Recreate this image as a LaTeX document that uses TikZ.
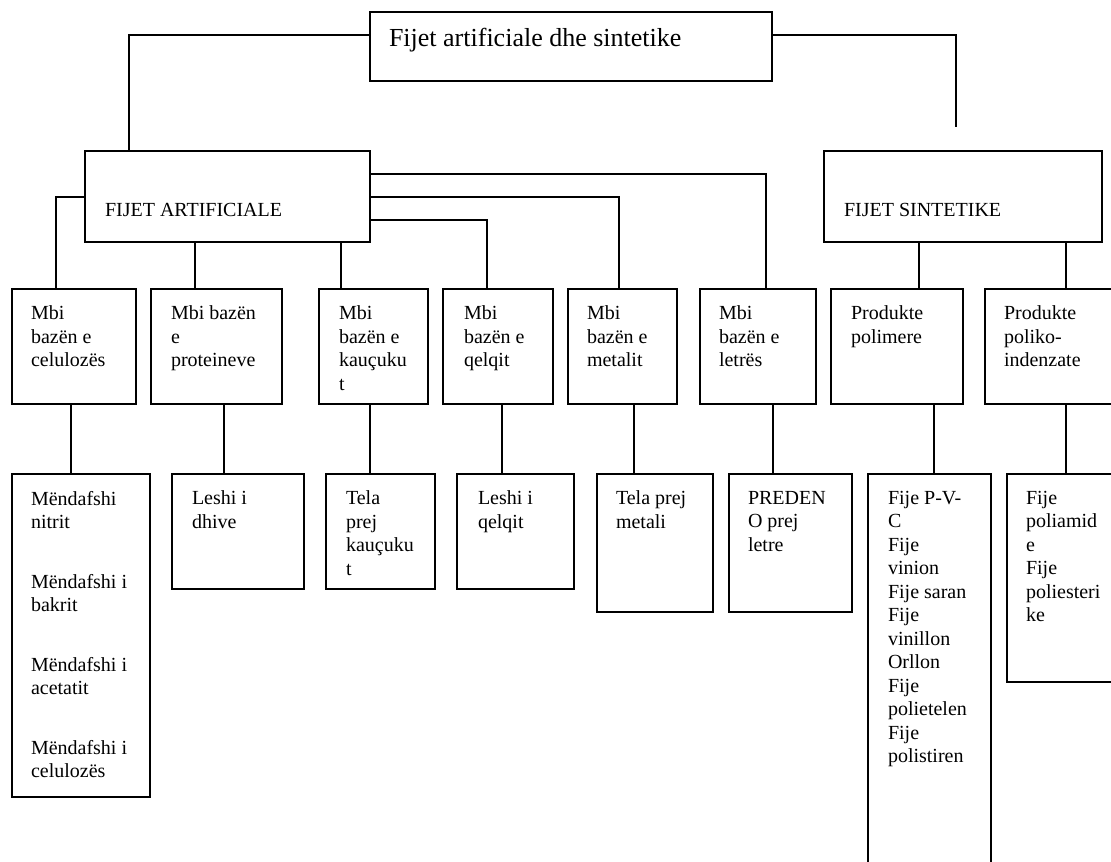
\documentclass[tikz,border=0pt]{standalone}
\usepackage{fontspec}
\setmainfont{Liberation Serif}
\usetikzlibrary{fit}

\begin{document}
\begin{tikzpicture}[x=1pt, y=-1pt, line width=1.6pt,
  box/.style={draw, rectangle, inner sep=0pt},
  txt/.style={anchor=north west, inner sep=0pt, align=left,
              font=\fontsize{20}{23.5}\selectfont}]
  \useasboundingbox (0,0) rectangle (1111,862);
  \clip (0,0) rectangle (1111,862);

  % upper levels
  \node (top) [box, fit={(370,12) (772,81)}] {};
  \node (art) [box, fit={(85,151) (370,242)}] {};
  \node (sin) [box, fit={(824,151) (1102,242)}] {};
  \node (topt) [txt, anchor=base west, font=\fontsize{26}{30}\selectfont]
               at ([xshift=19pt, yshift=-35pt]top.north west)
               {Fijet artificiale dhe sintetike};
  \node (artt) [txt, anchor=base west]
               at ([xshift=20pt, yshift=-66pt]art.north west) {FIJET ARTIFICIALE};
  \node (sint) [txt, anchor=base west]
               at ([xshift=20pt, yshift=-66pt]sin.north west) {FIJET SINTETIKE};

  % middle row
  \node (cel) [box, fit={(12,289) (136,404)}] {};
  \node (pro) [box, fit={(151,289) (282,404)}] {};
  \node (kau) [box, fit={(319,289) (428,404)}] {};
  \node (qel) [box, fit={(443,289) (553,404)}] {};
  \node (met) [box, fit={(568,289) (677,404)}] {};
  \node (let) [box, fit={(700,289) (816,404)}] {};
  \node (pol) [box, fit={(831,289) (963,404)}] {};
  \node (pkd) [box, fit={(985,289) (1130,404)}] {};
  \node (celt) [txt] at ([xshift=19pt, yshift=-17pt]cel.north west) {Mbi\\bazën e\\celulozës};
  \node (prot) [txt] at ([xshift=20pt, yshift=-17pt]pro.north west) {Mbi bazën\\e\\proteineve};
  \node (kaut) [txt] at ([xshift=20pt, yshift=-17pt]kau.north west) {Mbi\\bazën e\\kauçuku\\t};
  \node (qelt) [txt] at ([xshift=21pt, yshift=-17pt]qel.north west) {Mbi\\bazën e\\qelqit};
  \node (mett) [txt] at ([xshift=19pt, yshift=-17pt]met.north west) {Mbi\\bazën e\\metalit};
  \node (lett) [txt] at ([xshift=19pt, yshift=-17pt]let.north west) {Mbi\\bazën e\\letrës};
  \node (polt) [txt] at ([xshift=20pt, yshift=-17pt]pol.north west) {Produkte\\polimere};
  \node (pkdt) [txt] at ([xshift=19pt, yshift=-17pt]pkd.north west) {Produkte\\poliko-\\indenzate};

  % lower row
  \node (nit) [box, fit={(12,474) (150,797)}] {};
  \node (dhi) [box, fit={(172,474) (304,589)}] {};
  \node (tel) [box, fit={(326,474) (435,589)}] {};
  \node (lqe) [box, fit={(457,474) (574,589)}] {};
  \node (tme) [box, fit={(597,474) (713,612)}] {};
  \node (prd) [box, fit={(729,474) (852,612)}] {};
  \node (fpv) [box, fit={(868,474) (991,900)}] {};
  \node (fpa) [box, fit={(1007,474) (1130,682)}] {};
  \node (nitt) [txt] at ([xshift=19pt, yshift=-17pt]nit.north west)
               {Mëndafshi\\nitrit\\[36pt]Mëndafshi i\\bakrit\\[36pt]Mëndafshi i\\acetatit\\[36pt]Mëndafshi i\\celulozës};
  \node (dhit) [txt] at ([xshift=20pt, yshift=-17pt]dhi.north west) {Leshi i\\dhive};
  \node (telt) [txt] at ([xshift=20pt, yshift=-17pt]tel.north west) {Tela\\prej\\kauçuku\\t};
  \node (lqet) [txt] at ([xshift=21pt, yshift=-17pt]lqe.north west) {Leshi i\\qelqit};
  \node (tmet) [txt] at ([xshift=19pt, yshift=-17pt]tme.north west) {Tela prej\\metali};
  \node (prdt) [txt] at ([xshift=19pt, yshift=-17pt]prd.north west) {PREDEN\\O prej\\letre};
  \node (fpvt) [txt] at ([xshift=20pt, yshift=-17pt]fpv.north west)
               {Fije P-V-\\C\\Fije\\vinion\\Fije saran\\Fije\\vinillon\\Orllon\\Fije\\polietelen\\Fije\\polistiren};
  \node (fpat) [txt] at ([xshift=19pt, yshift=-17pt]fpa.north west) {Fije\\poliamid\\e\\Fije\\poliesteri\\ke};

  % connectors
  \coordinate (sfund) at (956,127);
  \draw (top.west |- 0,35) -| (art.north -| 129,0);
  \draw (top.east |- 0,35) -| (sfund);

  \draw (art.west |- 0,197) -| (cel.north -| 56,0);
  \draw (art.south -| 195,0) -- (pro.north -| 195,0);
  \draw (art.south -| 341,0) -- (kau.north -| 341,0);
  \draw (art.east |- 0,220) -| (qel.north -| 487,0);
  \draw (art.east |- 0,197) -| (met.north -| 619,0);
  \draw (art.east |- 0,174) -| (let.north -| 766,0);
  \draw (sin.south -| 919,0) -- (pol.north -| 919,0);
  \draw (sin.south -| 1066,0) -- (pkd.north -| 1066,0);

  \draw (cel.south -| 71,0) -- (nit.north -| 71,0);
  \draw (pro.south -| 224,0) -- (dhi.north -| 224,0);
  \draw (kau.south -| 370,0) -- (tel.north -| 370,0);
  \draw (qel.south -| 502,0) -- (lqe.north -| 502,0);
  \draw (met.south -| 634,0) -- (tme.north -| 634,0);
  \draw (let.south -| 773,0) -- (prd.north -| 773,0);
  \draw (pol.south -| 934,0) -- (fpv.north -| 934,0);
  \draw (pkd.south -| 1066,0) -- (fpa.north -| 1066,0);
\end{tikzpicture}
\end{document}
